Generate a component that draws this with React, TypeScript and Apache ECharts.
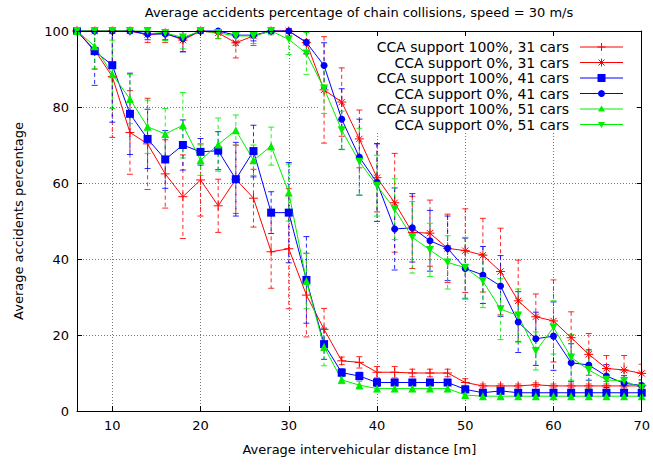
import React, { useEffect, useRef } from 'react';
import * as echarts from 'echarts';

const DIST = [6, 8, 10, 12, 14, 16, 18, 20, 22, 24, 26, 28, 30, 32, 34, 36, 38, 40, 42, 44, 46, 48, 50, 52, 54, 56, 58, 60, 62, 64, 66, 68, 70];

const X_TICKS = [10, 20, 30, 40, 50, 60, 70];
const Y_TICKS = [0, 20, 40, 60, 80, 100];

const NAMES = [
  'CCA support 100%, 31 cars',
  'CCA support 0%, 31 cars',
  'CCA support 100%, 41 cars',
  'CCA support 0%, 41 cars',
  'CCA support 100%, 51 cars',
  'CCA support 0%, 51 cars',
];

const S1_VAL = [100, 95, 88, 73.3, 70.3, 62.4, 56.4, 60.8, 54, 61, 56, 41.9, 42.7, 30.5, 21.5, 13.2, 12.8, 10.2, 10.2, 10, 10, 10, 7.5, 6.6, 6.6, 6.6, 6.9, 6.6, 6.6, 6.6, 6.6, 6.6, 6.6];
const S1_ERR = [0, 5, 16, 11, 12, 9, 11, 9.5, 7, 9, 7.6, 9.6, 15.8, 11, 5.5, 1, 1.5, 1.5, 1.5, 1, 1, 1, 1, 0.5, 0.5, 0.5, 0.5, 0.5, 0.5, 0.5, 0.5, 0.5, 0.5];

const S2_VAL = [100, 100, 100, 100, 99, 99.5, 97.6, 100, 99.5, 96.9, 98.7, 100, 100, 97, 84.5, 81.3, 71.6, 61.4, 54.8, 47, 46.8, 42.8, 42.2, 41, 36.7, 29, 24.8, 23.7, 19.3, 14.9, 11.2, 10.8, 9.9];
const S2_ERR = [0, 0, 0, 0.5, 2, 2.5, 3, 0.5, 1.5, 4, 2.5, 0.5, 0.5, 3, 14, 9, 7.6, 9, 13, 9.5, 8.7, 9, 11, 9.7, 11.4, 10.7, 6, 10.8, 6.8, 5.5, 3.4, 3.8, 2.4];

const S3_VAL = [100, 94.7, 91, 78.2, 71.6, 66.2, 70, 68.2, 68.5, 61, 68.4, 52.2, 52.2, 34.5, 17.6, 10.1, 9.2, 7.5, 7.5, 7.5, 7.5, 7.5, 5.7, 4.8, 5.3, 4.8, 4.8, 4.8, 4.8, 4.8, 4.8, 4.8, 4.8];
const S3_ERR = [0, 9, 15, 10.7, 7.8, 7.6, 6.6, 3.5, 5, 9.7, 6.8, 5.5, 13.2, 11.4, 4, 1, 1, 1, 0.8, 0.8, 0.8, 0.8, 0.8, 0.5, 0.5, 0.5, 0.5, 0.5, 0.5, 0.5, 0.5, 0.5, 0.5];

const S4_VAL = [100, 100, 100, 100, 99.2, 99.2, 98, 100, 100, 98.9, 98.9, 100, 100, 97, 90.9, 76.8, 66.8, 60.1, 47.9, 48.2, 44.8, 42.8, 37.5, 35.8, 32.9, 23.4, 19, 19.7, 12.7, 12.1, 9.2, 7.3, 6.7];
const S4_ERR = [0, 0, 0, 0.5, 1.5, 1.5, 3.5, 0.5, 0.5, 2, 1.5, 0.5, 0.5, 3, 6, 8, 10, 10.2, 10.8, 9, 8, 8.5, 8, 7.5, 8, 8, 7, 9, 5, 4, 3, 2, 1.5];

const S5_VAL = [100, 96, 88.6, 82.1, 74.8, 72.9, 75.2, 66, 70.1, 73.9, 66, 69.7, 57.5, 34.2, 16.9, 8.2, 6.8, 5.9, 5.9, 5.9, 5.9, 5.9, 4.2, 3.9, 3.9, 3.9, 3.9, 3.9, 3.9, 3.9, 3.9, 3.9, 3.9];
const S5_ERR = [0, 6, 9, 6.5, 7, 6.7, 8.6, 4, 7, 4, 4, 5, 7.5, 7.3, 5, 1, 1, 0.8, 0.8, 0.8, 0.8, 0.8, 0.5, 0.5, 0.5, 0.5, 0.5, 0.5, 0.5, 0.5, 0.5, 0.5, 0.5];

const S6_VAL = [100, 100, 100, 100, 100, 99.5, 98.3, 100, 99.5, 98.7, 98.7, 100, 97.8, 94.1, 84.9, 73.9, 65.6, 59.3, 53.1, 45.7, 42.4, 39.1, 37.7, 34.2, 26.8, 25.1, 15.8, 22, 14.1, 10.8, 8.2, 7.9, 6.1];
const S6_ERR = [0, 0, 0, 0, 1, 2, 3, 0.5, 1.5, 2.5, 2, 1, 4, 5.5, 6.6, 5, 8.8, 8, 8, 9.4, 7, 7, 8, 7, 8, 7, 5, 7, 6, 5, 3, 3, 2];

const RED = '#ff0000';
const BLUE = '#0000ff';
const GREEN = '#00ee00';
const FONT = '"DejaVu Sans", sans-serif';

const PLUS = 'path://M0,5L10,5M5,0L5,10';
const STAR = 'path://M0,5L10,5M5,0L5,10M1.5,1.5L8.5,8.5M1.5,8.5L8.5,1.5';

const DEFS = [
  { name: NAMES[0], vals: S1_VAL, errs: S1_ERR, color: RED, symbol: PLUS, size: 9, rot: 0, kind: 'plus' },
  { name: NAMES[1], vals: S2_VAL, errs: S2_ERR, color: RED, symbol: STAR, size: 9, rot: 0, kind: 'star' },
  { name: NAMES[2], vals: S3_VAL, errs: S3_ERR, color: BLUE, symbol: 'rect', size: 8, rot: 0, kind: 'square' },
  { name: NAMES[3], vals: S4_VAL, errs: S4_ERR, color: BLUE, symbol: 'circle', size: 7, rot: 0, kind: 'circle' },
  { name: NAMES[4], vals: S5_VAL, errs: S5_ERR, color: GREEN, symbol: 'triangle', size: 8, rot: 0, kind: 'up' },
  { name: NAMES[5], vals: S6_VAL, errs: S6_ERR, color: GREEN, symbol: 'triangle', size: 8, rot: 180, kind: 'down' },
];

function legendMarker(kind: string, cx: number, cy: number, color: string): any {
  const ln = (x1: number, y1: number, x2: number, y2: number) => ({
    type: 'line', silent: true, z: 5,
    shape: { x1, y1, x2, y2 },
    style: { stroke: color, lineWidth: 1 },
  });
  const r = 4;
  switch (kind) {
    case 'plus':
      return { type: 'group', z: 5, children: [ln(cx - r, cy, cx + r, cy), ln(cx, cy - r, cx, cy + r)] };
    case 'star':
      return { type: 'group', z: 5, children: [ln(cx - r, cy, cx + r, cy), ln(cx, cy - r, cx, cy + r), ln(cx - 3, cy - 3, cx + 3, cy + 3), ln(cx - 3, cy + 3, cx + 3, cy - 3)] };
    case 'square':
      return { type: 'rect', z: 5, shape: { x: cx - 4, y: cy - 4, width: 8, height: 8 }, style: { fill: color } };
    case 'circle':
      return { type: 'circle', z: 5, shape: { cx, cy, r: 3.5 }, style: { fill: color } };
    case 'up':
      return { type: 'polygon', z: 5, shape: { points: [[cx, cy - 3.5], [cx - 3.5, cy + 2.5], [cx + 3.5, cy + 2.5]] }, style: { fill: color } };
    default:
      return { type: 'polygon', z: 5, shape: { points: [[cx, cy + 3.5], [cx - 3.5, cy - 2.5], [cx + 3.5, cy - 2.5]] }, style: { fill: color } };
  }
}

export default function App() {
  const ref = useRef<HTMLDivElement>(null);

  useEffect(() => {
    if (!ref.current) return;
    const chart = echarts.init(ref.current, null, { renderer: 'svg' });

    const series: any[] = [];
    DEFS.forEach((d) => {
      series.push({
        type: 'custom',
        name: d.name + ' err',
        clip: true,
        silent: true,
        z: 2,
        data: DIST.map((x, i) => [x, d.vals[i] - d.errs[i], d.vals[i] + d.errs[i]]),
        encode: { x: 0, y: [1, 2] },
        renderItem: (params: any, api: any) => {
          const x = api.value(0);
          const lo = api.value(1);
          const hi = api.value(2);
          if (hi - lo < 0.05) return null;
          const top = api.coord([x, hi]);
          const bot = api.coord([x, lo]);
          const w = 3;
          return {
            type: 'group',
            children: [
              { type: 'line', shape: { x1: top[0], y1: top[1], x2: bot[0], y2: bot[1] }, style: { stroke: d.color, lineWidth: 1, lineDash: [4, 3], opacity: 0.85 } },
              { type: 'line', shape: { x1: top[0] - w, y1: top[1], x2: top[0] + w, y2: top[1] }, style: { stroke: d.color, lineWidth: 1, opacity: 0.85 } },
              { type: 'line', shape: { x1: bot[0] - w, y1: bot[1], x2: bot[0] + w, y2: bot[1] }, style: { stroke: d.color, lineWidth: 1, opacity: 0.85 } },
            ],
          };
        },
      });
      series.push({
        type: 'line',
        name: d.name,
        clip: false,
        silent: true,
        z: 2,
        data: DIST.map((x, i) => [x, d.vals[i]]),
        symbol: d.symbol,
        symbolSize: d.size,
        symbolRotate: d.rot,
        showSymbol: true,
        lineStyle: { color: d.color, width: 1 },
        itemStyle: { color: d.color, borderColor: d.color, borderWidth: d.kind === 'plus' || d.kind === 'star' ? 1 : 0 },
        emphasis: { disabled: true },
      });
    });

    const graphic: any[] = [
      {
        type: 'rect', z: 1, silent: true,
        shape: { x: 320, y: 31.5, width: 321, height: 101.5 },
        style: { fill: '#fff' },
      },
      {
        type: 'text', x: 359, y: 12, silent: true, z: 5,
        style: {
          text: 'Average accidents percentage of chain collisions, speed = 30 m/s',
          fontSize: 13, fontFamily: FONT, fill: '#000',
          align: 'center', textAlign: 'center', verticalAlign: 'middle', textVerticalAlign: 'middle',
        },
      },
    ];
    DEFS.forEach((d, i) => {
      const y = 47 + i * 15.5;
      graphic.push({
        type: 'text', x: 569, y, silent: true, z: 5,
        style: {
          text: d.name, fontSize: 14, fontFamily: FONT, fill: '#000',
          align: 'right', textAlign: 'right', verticalAlign: 'middle', textVerticalAlign: 'middle',
        },
      });
      graphic.push({ type: 'line', silent: true, z: 5, shape: { x1: 580, y1: y, x2: 623, y2: y }, style: { stroke: d.color, lineWidth: 1 } });
      graphic.push(legendMarker(d.kind, 601.5, y, d.color));
    });

    const axisCommon = {
      axisLine: { show: true, onZero: false, lineStyle: { color: '#000', width: 1 } },
      axisTick: { show: true, inside: true, length: 5, lineStyle: { color: '#000' } },
    };

    chart.setOption({
      animation: false,
      backgroundColor: '#fff',
      grid: { left: 77, right: 11, top: 31, bottom: 55, containLabel: false },
      graphic,
      xAxis: [
        {
          type: 'value', min: DIST[0], max: DIST[DIST.length - 1], position: 'bottom', z: 0,
          ...axisCommon,
          axisLabel: {
            color: '#000', fontSize: 13, fontFamily: FONT, margin: 8,
            formatter: (v: number) => (X_TICKS.indexOf(v) >= 0 ? String(v) : ''),
          },
          splitLine: { show: true, lineStyle: { type: [1, 2], color: '#777', width: 1 } },
          name: 'Average intervehicular distance [m]',
          nameLocation: 'middle', nameGap: 32,
          nameTextStyle: { color: '#000', fontSize: 13, fontFamily: FONT },
        },
        {
          type: 'value', min: DIST[0], max: DIST[DIST.length - 1], position: 'top', z: 3,
          ...axisCommon,
          axisLabel: { show: false },
          splitLine: { show: false },
        },
      ],
      yAxis: [
        {
          type: 'value', min: Y_TICKS[0], max: Y_TICKS[Y_TICKS.length - 1], interval: 20, position: 'left', z: 0,
          ...axisCommon,
          axisLabel: { color: '#000', fontSize: 13, fontFamily: FONT, margin: 8 },
          splitLine: { show: true, lineStyle: { type: [1, 2], color: '#777', width: 1 } },
          name: 'Average accidents percentage',
          nameLocation: 'middle', nameGap: 52, nameRotate: 90,
          nameTextStyle: { color: '#000', fontSize: 13, fontFamily: FONT },
        },
        {
          type: 'value', min: Y_TICKS[0], max: Y_TICKS[Y_TICKS.length - 1], interval: 20, position: 'right', z: 3,
          ...axisCommon,
          axisLabel: { show: false },
          splitLine: { show: false },
        },
      ],
      series,
    });

    return () => chart.dispose();
  }, []);

  return <div ref={ref} style={{ position: 'fixed', left: 0, top: 0, width: 653, height: 466 }} />;
}
